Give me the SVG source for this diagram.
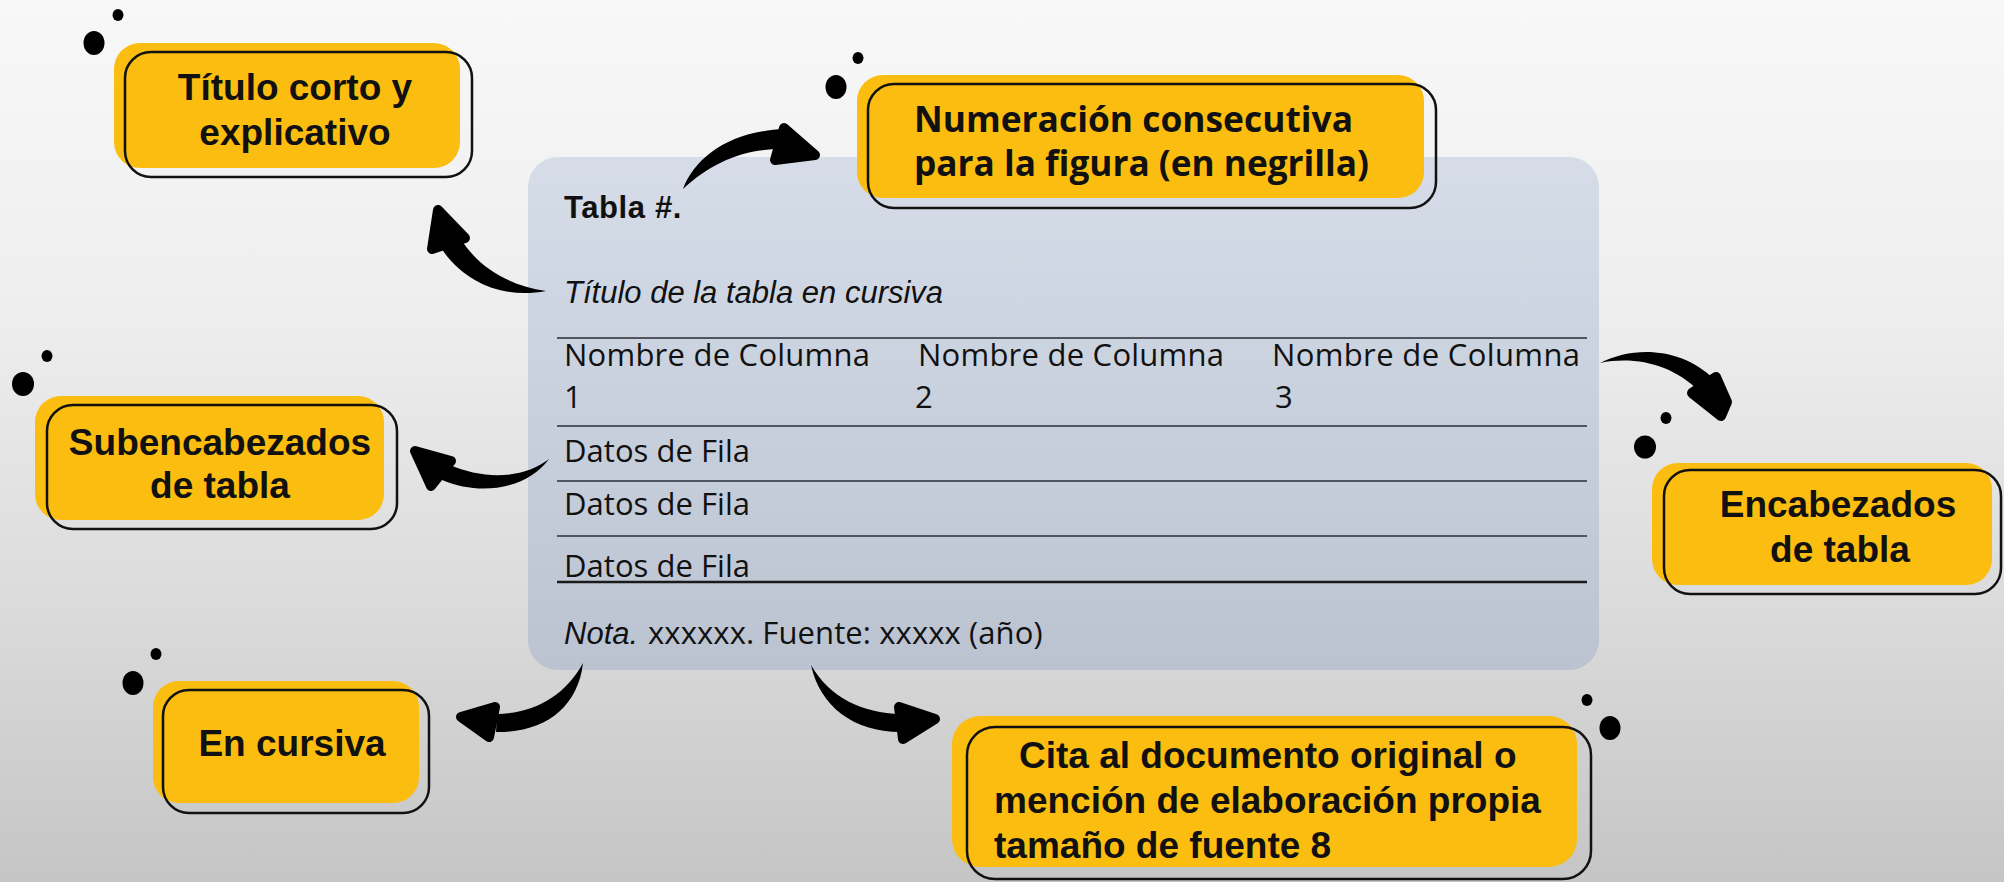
<svg xmlns="http://www.w3.org/2000/svg" width="2004" height="882" viewBox="0 0 2004 882">
  <defs>
    <linearGradient id="bg" x1="0" y1="0" x2="0" y2="1">
      <stop offset="0" stop-color="#f8f8f8"/>
      <stop offset="0.35" stop-color="#eeeeee"/>
      <stop offset="0.7" stop-color="#dadada"/>
      <stop offset="1" stop-color="#c5c5c5"/>
    </linearGradient>
    <linearGradient id="panel" x1="0" y1="0" x2="0" y2="1">
      <stop offset="0" stop-color="#d6dde9"/>
      <stop offset="1" stop-color="#bbc3d1"/>
    </linearGradient>
    <style>
      .yel { fill: #fbbd0f; }
      .out { fill: none; stroke: #111; stroke-width: 2.5; }
      .dot { fill: #000; }
      .lbl { font-family: "Liberation Sans", Arial, sans-serif; font-weight: bold; font-size: 37px; fill: #111; }
      .lbl2 { font-family: "Open Sans", "Liberation Sans", sans-serif; font-weight: bold; font-size: 35px; fill: #111; }
      .cell { font-family: "Open Sans", "DejaVu Sans", sans-serif; font-size: 31px; fill: #111; }
      .rule { stroke: #505560; stroke-width: 1.8; }
      .shaft { fill: #000; }
      .head { fill: #000; stroke: #000; stroke-width: 10; stroke-linejoin: round; }
    </style>
  </defs>

  <rect x="0" y="0" width="2004" height="882" fill="url(#bg)"/>

  <g id="tabla">
    <rect x="528" y="157" width="1071" height="513" rx="30" fill="url(#panel)"/>
    <text x="564" y="218" font-family="Liberation Sans, Arial, sans-serif" font-weight="bold" font-size="31" letter-spacing="0.6" fill="#111">Tabla #.</text>
    <text x="564" y="303" font-family="Liberation Sans, Arial, sans-serif" font-style="italic" font-size="31" fill="#111">Título de la tabla en cursiva</text>
    <line class="rule" x1="557" y1="338" x2="1587" y2="338"/>
    <text class="cell" x="564" y="366" textLength="306" lengthAdjust="spacing">Nombre de Columna</text>
    <text class="cell" x="918" y="366" textLength="306" lengthAdjust="spacing">Nombre de Columna</text>
    <text class="cell" x="1272" y="366" textLength="308" lengthAdjust="spacing">Nombre de Columna</text>
    <text class="cell" x="564" y="408">1</text>
    <text class="cell" x="915" y="408">2</text>
    <text class="cell" x="1275" y="408">3</text>
    <line class="rule" x1="557" y1="426" x2="1587" y2="426"/>
    <text class="cell" x="564" y="462" textLength="186" lengthAdjust="spacing">Datos de Fila</text>
    <line class="rule" x1="557" y1="481" x2="1587" y2="481"/>
    <text class="cell" x="564" y="515" textLength="186" lengthAdjust="spacing">Datos de Fila</text>
    <line class="rule" x1="557" y1="536" x2="1587" y2="536"/>
    <text class="cell" x="564" y="577" textLength="186" lengthAdjust="spacing">Datos de Fila</text>
    <line x1="557" y1="582" x2="1587" y2="582" stroke="#1a1a1a" stroke-width="2.6"/>
    <text class="cell" x="564" y="644"><tspan font-family="Liberation Sans, Arial, sans-serif" font-style="italic" font-size="31">Nota. </tspan><tspan x="648" letter-spacing="0.1">xxxxxx. Fuente: xxxxx (año)</tspan></text>
  </g>

  <g id="titulo-corto">
    <ellipse class="dot" cx="94" cy="43" rx="10.5" ry="12"/>
    <ellipse class="dot" cx="118" cy="15" rx="5.5" ry="6"/>
    <rect class="yel" x="114" y="43" width="346" height="125" rx="26"/>
    <rect class="out" x="125" y="52" width="347" height="125" rx="26"/>
    <text class="lbl" x="295" y="100" text-anchor="middle" font-size="38.5">Título corto y</text>
    <text class="lbl" x="295" y="145" text-anchor="middle" font-size="38.5">explicativo</text>
  </g>

  <g id="numeracion">
    <ellipse class="dot" cx="836" cy="87" rx="10.5" ry="12"/>
    <ellipse class="dot" cx="858" cy="58" rx="5.5" ry="6"/>
    <rect class="yel" x="857" y="75" width="567" height="123" rx="26"/>
    <rect class="out" x="868" y="84" width="568" height="124" rx="26"/>
    <text class="lbl2" x="914" y="132" textLength="439" lengthAdjust="spacingAndGlyphs">Numeración consecutiva</text>
    <text class="lbl2" x="914" y="176" textLength="455" lengthAdjust="spacingAndGlyphs">para la figura (en negrilla)</text>
  </g>

  <g id="encabezados">
    <ellipse class="dot" cx="1645" cy="447" rx="11" ry="11.5"/>
    <ellipse class="dot" cx="1666" cy="418" rx="5.5" ry="6"/>
    <rect class="yel" x="1652" y="463" width="340" height="122" rx="26"/>
    <rect class="out" x="1664" y="470" width="337" height="124" rx="26"/>
    <text class="lbl" x="1838" y="517" text-anchor="middle">Encabezados</text>
    <text class="lbl" x="1840" y="562" text-anchor="middle">de tabla</text>
  </g>

  <g id="subencabezados">
    <ellipse class="dot" cx="23" cy="384" rx="11" ry="12"/>
    <ellipse class="dot" cx="47" cy="356" rx="5.5" ry="6"/>
    <rect class="yel" x="35" y="396" width="349" height="124" rx="26"/>
    <rect class="out" x="47" y="405" width="350" height="124" rx="26"/>
    <text class="lbl" x="220" y="455" text-anchor="middle">Subencabezados</text>
    <text class="lbl" x="220" y="498" text-anchor="middle">de tabla</text>
  </g>

  <g id="en-cursiva">
    <ellipse class="dot" cx="133" cy="683" rx="10.5" ry="12"/>
    <ellipse class="dot" cx="156" cy="654" rx="5.5" ry="6"/>
    <rect class="yel" x="153" y="681" width="266" height="122" rx="26"/>
    <rect class="out" x="163" y="690" width="266" height="123" rx="26"/>
    <text class="lbl" x="292" y="756" text-anchor="middle" font-size="35.5">En cursiva</text>
  </g>

  <g id="cita">
    <ellipse class="dot" cx="1610" cy="728" rx="10.5" ry="12"/>
    <ellipse class="dot" cx="1587" cy="700" rx="5.5" ry="6"/>
    <rect class="yel" x="952" y="716" width="625" height="151" rx="28"/>
    <rect class="out" x="967" y="727" width="624" height="152" rx="28"/>
    <text class="lbl" x="1019" y="768">Cita al documento original o</text>
    <text class="lbl" x="994" y="813">mención de elaboración propia</text>
    <text class="lbl" x="994" y="858">tamaño de fuente 8</text>
  </g>

  <g id="conectores">
    <!-- Tabla #. -> Numeración -->
    <path class="shaft" d="M683,189 C695,157 730,131 785,129 L786,149 C745,148 712,162 683,189 Z"/>
    <polygon class="head" points="784,128 815,155 775,160"/>
    <!-- Título de la tabla -> Título corto -->
    <path class="shaft" d="M546,291 C505,299 465,284 441,248 L460,238 C479,268 508,285 546,291 Z"/>
    <polygon class="head" points="438,210 465,238 432,249"/>
    <!-- Encabezados de columna -> Encabezados de tabla -->
    <path class="shaft" d="M1600,363 C1635,345 1682,348 1714,379 L1700,392 C1672,364 1635,356 1600,363 Z"/>
    <polygon class="head" points="1716,377 1727,402 1721,416 1692,393"/>
    <!-- Datos de Fila -> Subencabezados -->
    <path class="shaft" d="M549,459 C525,478 485,481 448,464 L442,480 C482,497 528,488 549,459 Z"/>
    <polygon class="head" points="415,451 451,461 431,486"/>
    <!-- Nota -> En cursiva -->
    <path class="shaft" d="M583,663 C578,707 545,733 496,732 L497,714 C535,713 565,696 583,663 Z"/>
    <polygon class="head" points="461,717 495,707 489,737"/>
    <!-- Fuente -> Cita -->
    <path class="shaft" d="M811,665 C820,707 855,733 903,732 L901,714 C862,713 830,698 811,665 Z"/>
    <polygon class="head" points="899,707 935,719 903,739"/>
  </g>
</svg>
